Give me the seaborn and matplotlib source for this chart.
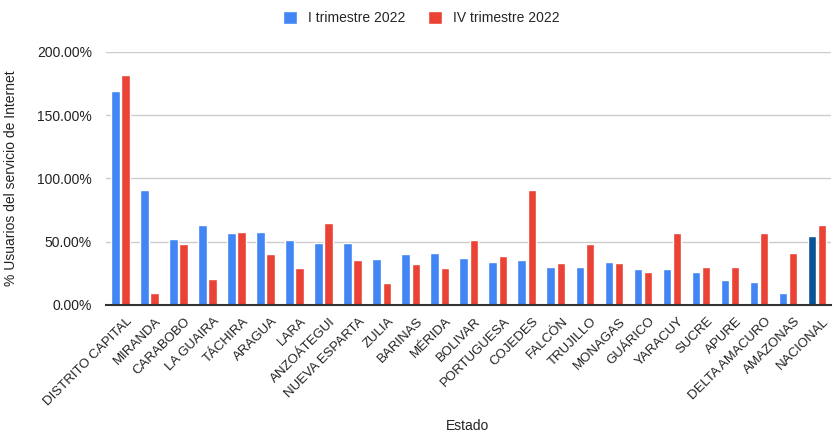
import matplotlib
matplotlib.use("Agg")
import matplotlib.pyplot as plt
import matplotlib.transforms as mtransforms
import seaborn as sns
import pandas as pd
from matplotlib.ticker import FuncFormatter, MultipleLocator

estados = ["DISTRITO CAPITAL", "MIRANDA", "CARABOBO", "LA GUAIRA", "TÁCHIRA",
           "ARAGUA", "LARA", "ANZOÁTEGUI", "NUEVA ESPARTA", "ZULIA", "BARINAS",
           "MÉRIDA", "BOLIVAR", "PORTUGUESA", "COJEDES", "FALCÓN", "TRUJILLO",
           "MONAGAS", "GUÁRICO", "YARACUY", "SUCRE", "APURE", "DELTA AMACURO",
           "AMAZONAS", "NACIONAL"]
trim_i_2022 = [169.1, 90.6, 52.3, 62.9, 56.8, 57.6, 51.5, 48.9, 48.9, 36.7,
               40.2, 41.0, 37.5, 34.1, 35.7, 30.4, 30.4, 34.1, 28.8, 28.8,
               26.2, 20.1, 18.2, 9.3, 54.7]
trim_iv_2022 = [181.5, 9.5, 48.1, 20.9, 57.6, 40.2, 29.6, 64.8, 35.7, 17.2,
                32.2, 29.6, 51.3, 39.1, 90.6, 33.0, 47.8, 33.0, 26.2, 56.8,
                30.4, 30.4, 56.8, 41.0, 62.9]
series = ["I trimestre 2022", "IV trimestre 2022"]

df = pd.DataFrame({
    "Estado": estados * 2,
    "valor": trim_i_2022 + trim_iv_2022,
    "serie": [series[0]] * len(estados) + [series[1]] * len(estados),
})

sns.set_style("white")
plt.rcParams["font.family"] = ["Liberation Sans", "DejaVu Sans"]

fig = plt.figure(figsize=(8.34, 4.32), dpi=100)
ax = fig.add_axes([0.127, 0.294, 0.870, 0.586])

palette = {series[0]: "#4285F4", series[1]: "#EA4335"}
sns.barplot(data=df, x="Estado", y="valor", hue="serie", palette=palette,
            width=0.70, gap=0.17, ax=ax, legend=True, saturation=1)

# national total shown in a darker blue
blue_bars = ax.containers[0]
blue_bars[len(estados) - 1].set_facecolor("#0B5394")

ax.set_ylim(0, 200)
ax.set_xlim(-0.5, len(estados) - 0.5)
ax.yaxis.set_major_locator(MultipleLocator(50))
ax.yaxis.set_major_formatter(FuncFormatter(lambda v, p: f"{v:.2f}%"))
ax.grid(axis="y", color="#cccccc", linewidth=1)
ax.set_axisbelow(True)
for s in ["top", "right", "left"]:
    ax.spines[s].set_visible(False)
ax.spines["bottom"].set_color("#333333")
ax.spines["bottom"].set_linewidth(1.5)
ax.spines["bottom"].set_zorder(5)

ax.tick_params(axis="y", length=0, labelsize=10, colors="#222222", pad=10)
ax.tick_params(axis="x", length=0, labelsize=9.5, colors="#222222", pad=6)
shift = mtransforms.ScaledTranslation(6 / 100, -2 / 100, fig.dpi_scale_trans)
for lbl in ax.get_xticklabels():
    lbl.set_rotation(45)
    lbl.set_ha("right")
    lbl.set_rotation_mode("anchor")
    lbl.set_transform(lbl.get_transform() + shift)

ax.set_xlabel("")
ax.set_ylabel("% Usuarios del servicio de Internet", fontsize=10,
              color="#222222", labelpad=14)
fig.text(0.561, 0.015, "Estado", ha="center", va="center", fontsize=10,
         color="#222222")

handles, labels = ax.get_legend_handles_labels()
ax.get_legend().remove()
fig.legend(handles, labels, loc="center", bbox_to_anchor=(0.505, 0.958),
           ncol=2, frameon=False, fontsize=10, handlelength=1.0,
           handleheight=1.0, columnspacing=1.6, handletextpad=0.8,
           markerscale=1.0)

fig.savefig("out.png", dpi=100, facecolor="white")
